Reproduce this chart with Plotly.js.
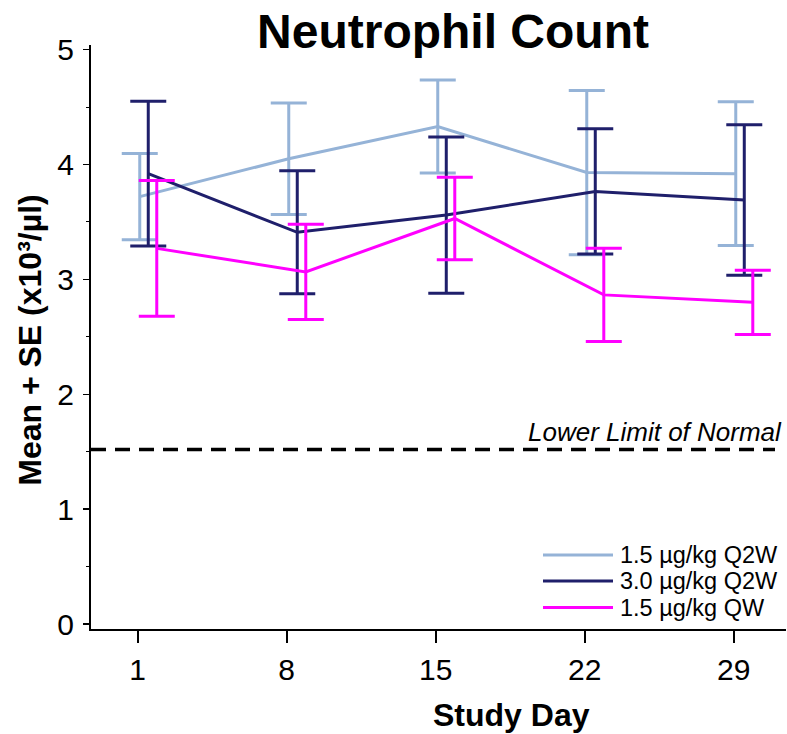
<!DOCTYPE html>
<html>
<head>
<meta charset="utf-8">
<script src="https://cdn.plot.ly/plotly-3.0.1.min.js"></script>
<style>html,body{margin:0;padding:0;background:#fff;}#chart{width:787px;height:734px;}</style>
</head>
<body>
<div id="chart"></div>
<script>
// ---- data ----
const studyDays = [1, 8, 15, 22, 29];
const dayLabels = ['1', '8', '15', '22', '29'];
const seriesNames = ['1.5 µg/kg Q2W', '3.0 µg/kg Q2W', '1.5 µg/kg QW'];
const meanQ2W15 = [3.72, 4.05, 4.33, 3.93, 3.92];
const seQ2W15   = [0.375, 0.485, 0.405, 0.715, 0.625];
const meanQ2W30 = [3.92, 3.41, 3.56, 3.765, 3.69];
const seQ2W30   = [0.63, 0.535, 0.68, 0.545, 0.655];
const meanQW15  = [3.27, 3.065, 3.53, 2.865, 2.80];
const seQW15    = [0.59, 0.415, 0.36, 0.405, 0.28];
const lowerLimitNormal = 1.52;
const lowerLimitLabel = 'Lower Limit of Normal';

// ---- style ----
const colors = ['#95B3D7', '#1F1F6B', '#FF00FF'];
const dodge = [0.1, 0.5, 0.9];
const means = [meanQ2W15, meanQ2W30, meanQW15];
const ses = [seQ2W15, seQ2W30, seQW15];
const FONT = '"Liberation Sans", Arial, sans-serif';

// plot-area geometry in pixels
const W = 787, H = 734;
const L = 91, R = 786, T = 45, B = 629.5;
const px2paperX = p => (p - L) / (R - L);
const px2paperY = p => (B - p) / (B - T);

const traces = seriesNames.map((name, i) => ({
  type: 'scatter',
  mode: 'lines',
  name: name,
  x: studyDays.map(d => d + dodge[i]),
  y: means[i],
  line: {color: colors[i], width: 3},
  error_y: {type: 'data', array: ses[i], symmetric: true, color: colors[i], thickness: 3, width: 18},
  showlegend: false,
  hoverinfo: 'skip'
}));

const shapes = [{
  type: 'line', xref: 'paper', yref: 'y',
  x0: 0, x1: px2paperX(775), y0: lowerLimitNormal, y1: lowerLimitNormal,
  line: {color: '#000', width: 3.5, dash: '15px,9px'}
}];
const annotations = [];

// manual legend
const legendRowsPx = [555.5, 581.5, 608];
seriesNames.forEach((name, i) => {
  shapes.push({
    type: 'line', xref: 'paper', yref: 'paper',
    x0: px2paperX(543), x1: px2paperX(613),
    y0: px2paperY(legendRowsPx[i]), y1: px2paperY(legendRowsPx[i]),
    line: {color: colors[i], width: 3}
  });
  annotations.push({
    xref: 'paper', yref: 'paper', x: px2paperX(618), y: px2paperY(legendRowsPx[i]),
    xanchor: 'left', yanchor: 'middle', showarrow: false, text: name,
    font: {family: FONT, size: 23.5, color: '#000'}
  });
});

annotations.push({
  xref: 'paper', yref: 'y', x: px2paperX(784), y: lowerLimitNormal,
  xanchor: 'right', yanchor: 'bottom', yshift: 0, showarrow: false,
  text: '<i>' + lowerLimitLabel + '</i>',
  font: {family: FONT, size: 26, color: '#000'}
});
annotations.push({
  xref: 'paper', yref: 'paper', x: px2paperX(30), y: px2paperY(341),
  xanchor: 'center', yanchor: 'middle', textangle: -90, showarrow: false,
  text: '<b>Mean + SE (x10³/µl)</b>',
  font: {family: FONT, size: 32, color: '#000'}
});
annotations.push({
  xref: 'paper', yref: 'paper', x: px2paperX(511), y: px2paperY(716),
  xanchor: 'center', yanchor: 'middle', showarrow: false,
  text: '<b>Study Day</b>',
  font: {family: FONT, size: 32, color: '#000'}
});

const layout = {
  width: W, height: H,
  margin: {l: L, r: W - R, t: T, b: H - B, pad: 0},
  paper_bgcolor: '#fff', plot_bgcolor: '#fff',
  font: {family: FONT, color: '#000'},
  title: {
    text: '<b>Neutrophil Count</b>',
    font: {family: FONT, size: 48, color: '#000'},
    xref: 'container', yref: 'container',
    x: 453 / W, xanchor: 'center', y: 1 - 31 / H, yanchor: 'middle'
  },
  showlegend: false,
  xaxis: {
    range: [-1.19, 31.46],
    tickvals: studyDays, ticktext: dayLabels,
    showgrid: false, zeroline: false,
    showline: true, linecolor: '#000', linewidth: 2,
    ticks: 'outside', ticklen: 12, tickwidth: 2, tickcolor: '#000',
    tickfont: {family: FONT, size: 30, color: '#000'},
    ticklabelstandoff: 1
  },
  yaxis: {
    range: [-0.043, 5.04],
    tickvals: [0, 1, 2, 3, 4, 5],
    showgrid: false, zeroline: false,
    showline: true, linecolor: '#000', linewidth: 2,
    ticks: 'outside', ticklen: 6, tickwidth: 1.5, tickcolor: '#000',
    tickfont: {family: FONT, size: 30, color: '#000'},
    ticklabelstandoff: 3,
    minor: {dtick: 0.5, tick0: 0, ticks: 'outside', ticklen: 3, tickwidth: 1, tickcolor: '#000', showgrid: false}
  },
  shapes: shapes,
  annotations: annotations
};

Plotly.newPlot('chart', traces, layout, {displayModeBar: false, staticPlot: true});
</script>
</body>
</html>
